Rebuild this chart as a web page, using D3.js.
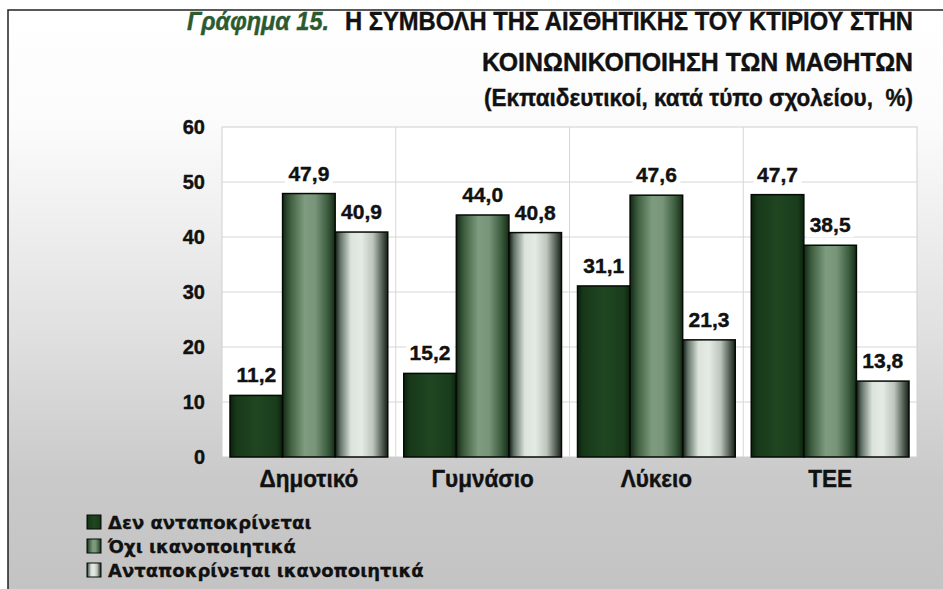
<!DOCTYPE html>
<html>
<head>
<meta charset="utf-8">
<script src="https://cdn.jsdelivr.net/npm/d3@7"></script>
<style>
  html, body { margin: 0; padding: 0; background: #ffffff; }
  svg { display: block; }
</style>
</head>
<body>
<div id="chart"></div>
<script>
// data
var categories = ["Δημοτικό", "Γυμνάσιο", "Λύκειο", "ΤΕΕ"];
var seriesNames = ["Δεν ανταποκρίνεται", "Όχι ικανοποιητικά", "Ανταποκρίνεται ικανοποιητικά"];
var noAnswer = [11.2, 15.2, 31.1, 47.7];
var notSatisfactory = [47.9, 44.0, 47.6, 38.5];
var satisfactory = [40.9, 40.8, 21.3, 13.8];
var yTicks = [0, 10, 20, 30, 40, 50, 60];

var seriesValues = [noAnswer, notSatisfactory, satisfactory];

var W = 943, H = 589;
var plot = { left: 222, right: 917, top: 127, bottom: 457 };
var sans = "'Liberation Sans', Arial, sans-serif";

var svg = d3.select("#chart").append("svg")
  .attr("width", W)
  .attr("height", H);

var defs = svg.append("defs");

// background gradient
var bg = defs.append("linearGradient").attr("id", "bgGrad")
  .attr("x1", 0).attr("y1", 0).attr("x2", 0).attr("y2", 1);
[[0, "#ffffff"], [0.2, "#fbfbfb"], [0.55, "#e0e0e0"], [0.8, "#c9c9c9"], [1, "#c3c3c3"]]
  .forEach(function(s){ bg.append("stop").attr("offset", s[0]).attr("stop-color", s[1]); });

// bar gradients (horizontal, cylinder look)
var barStops = [
  [[0, "#0c200d"], [0.12, "#18391a"], [0.5, "#1f4621"], [0.88, "#1a3d1c"], [1, "#0d220e"]],
  [[0, "#132814"], [0.15, "#3f5f40"], [0.42, "#7f9c80"], [0.62, "#78957a"], [0.85, "#3e5e40"], [1, "#142c16"]],
  [[0, "#0e180e"], [0.1, "#64746a"], [0.3, "#dbe3db"], [0.5, "#e4ebe4"], [0.72, "#bcc4bc"], [0.9, "#505a50"], [1, "#182018"]]
];
barStops.forEach(function(stops, i){
  var g = defs.append("linearGradient").attr("id", "barGrad" + i)
    .attr("x1", 0).attr("y1", 0).attr("x2", 1).attr("y2", 0);
  stops.forEach(function(s){ g.append("stop").attr("offset", s[0]).attr("stop-color", s[1]); });
});

// outer panel with frame
svg.append("rect")
  .attr("x", 8).attr("y", 10)
  .attr("width", W).attr("height", H)
  .attr("fill", "url(#bgGrad)")
  .attr("stroke", "#222")
  .attr("stroke-width", 1.5);

// title
var title = svg.append("g").attr("font-family", sans)
  .attr("font-weight", "bold").attr("fill", "#111")
  .attr("stroke", "#111").attr("stroke-width", 0.4);
title.append("text")
  .attr("x", 187).attr("y", 30)
  .attr("font-size", 25).attr("font-style", "italic")
  .attr("fill", "#2c5a2e").attr("stroke", "#2c5a2e")
  .attr("textLength", 142).attr("lengthAdjust", "spacingAndGlyphs")
  .text("Γράφημα 15.");
title.append("text")
  .attr("x", 913).attr("y", 30).attr("text-anchor", "end")
  .attr("font-size", 25)
  .attr("textLength", 568).attr("lengthAdjust", "spacingAndGlyphs")
  .text("Η ΣΥΜΒΟΛΗ ΤΗΣ ΑΙΣΘΗΤΙΚΗΣ ΤΟΥ ΚΤΙΡΙΟΥ ΣΤΗΝ");
title.append("text")
  .attr("x", 913).attr("y", 71).attr("text-anchor", "end")
  .attr("font-size", 25)
  .attr("textLength", 431).attr("lengthAdjust", "spacingAndGlyphs")
  .text("ΚΟΙΝΩΝΙΚΟΠΟΙΗΣΗ ΤΩΝ ΜΑΘΗΤΩΝ");
title.append("text")
  .attr("x", 913).attr("y", 106).attr("text-anchor", "end")
  .attr("font-size", 24)
  .attr("textLength", 429).attr("lengthAdjust", "spacingAndGlyphs")
  .text("(Εκπαιδευτικοί, κατά τύπο σχολείου,\u00a0 %)");

// scales
var x = d3.scaleBand().domain(categories).range([plot.left, plot.right]).padding(0);
var x1 = d3.scaleBand().domain(d3.range(seriesNames.length))
  .range([8, x.bandwidth() - 8]).padding(0);
var y = d3.scaleLinear().domain([0, 60]).range([plot.bottom, plot.top]);

// plot area
svg.append("rect")
  .attr("x", plot.left).attr("y", plot.top)
  .attr("width", plot.right - plot.left).attr("height", plot.bottom - plot.top)
  .attr("fill", "#ffffff")
  .attr("stroke", "#cfcfcf").attr("stroke-width", 1);

// horizontal grid
svg.append("g").selectAll("line")
  .data(yTicks.slice(1, -1))
  .join("line")
  .attr("x1", plot.left).attr("x2", plot.right)
  .attr("y1", d => y(d)).attr("y2", d => y(d))
  .attr("stroke", "#d6d6d6").attr("stroke-width", 1);

// vertical separators between categories
svg.append("g").selectAll("line")
  .data(categories.slice(1))
  .join("line")
  .attr("x1", d => x(d)).attr("x2", d => x(d))
  .attr("y1", plot.top).attr("y2", plot.bottom)
  .attr("stroke", "#d6d6d6").attr("stroke-width", 1);

// y axis labels
var yAxis = d3.axisLeft(y).tickValues(yTicks).tickSize(0).tickPadding(17).tickFormat(d3.format("d"));
var yg = svg.append("g").attr("transform", "translate(" + plot.left + ",0)").call(yAxis);
yg.select(".domain").remove();
yg.selectAll("text")
  .attr("font-family", sans)
  .attr("font-weight", "bold").attr("font-size", 20).attr("fill", "#111")
  .attr("stroke", "#111").attr("stroke-width", 0.4);

// x axis labels
var xAxis = d3.axisBottom(x).tickSize(0).tickPadding(13);
var xg = svg.append("g").attr("transform", "translate(0," + plot.bottom + ")").call(xAxis);
xg.select(".domain").remove();
xg.selectAll("text")
  .attr("font-family", sans)
  .attr("font-weight", "bold").attr("font-size", 24).attr("fill", "#111")
  .attr("stroke", "#111").attr("stroke-width", 0.4)
  .attr("transform", "scale(0.94,1)");

// bars
var fmt = function(v){ return v.toFixed(1).replace(".", ","); };
var barData = [];
categories.forEach(function(c, ci){
  seriesValues.forEach(function(vals, si){
    barData.push({ cat: c, s: si, v: vals[ci] });
  });
});

var bars = svg.append("g");
bars.selectAll("rect")
  .data(barData)
  .join("rect")
  .attr("x", d => x(d.cat) + x1(d.s))
  .attr("y", d => y(d.v))
  .attr("width", x1.bandwidth())
  .attr("height", d => y(0) - y(d.v))
  .attr("fill", d => "url(#barGrad" + d.s + ")")
  .attr("stroke", "#050a05")
  .attr("stroke-width", 1.5);

// value labels
var labels = svg.append("g")
  .attr("font-family", sans)
  .attr("font-weight", "bold").attr("font-size", 21).attr("fill", "#111");
var lab = labels.selectAll("g").data(barData).join("g")
  .attr("transform", d => "translate(" + (x(d.cat) + x1(d.s) + x1.bandwidth() / 2) + "," + (y(d.v) - 13) + ")");
lab.append("rect")
  .attr("x", -24).attr("y", -19).attr("width", 48).attr("height", 24)
  .attr("fill", "#ffffff");
lab.append("text")
  .attr("text-anchor", "middle")
  .attr("stroke", "#111").attr("stroke-width", 0.4)
  .text(d => fmt(d.v));

// legend
var legend = svg.append("g").attr("transform", "translate(87,522)");
var li = legend.selectAll("g").data(seriesNames).join("g")
  .attr("transform", (d, i) => "translate(0," + (i * 24) + ")");
li.append("rect")
  .attr("x", 0).attr("y", -7).attr("width", 14).attr("height", 14)
  .attr("fill", (d, i) => "url(#barGrad" + i + ")")
  .attr("stroke", "#050a05").attr("stroke-width", 1);
li.append("text")
  .attr("x", 21).attr("y", 6.5)
  .attr("font-family", "'DejaVu Sans', Verdana, sans-serif")
  .attr("font-weight", "bold").attr("font-size", 18).attr("fill", "#111")
  .attr("stroke", "#111").attr("stroke-width", 0.3)
  .text(d => d);
</script>
</body>
</html>
